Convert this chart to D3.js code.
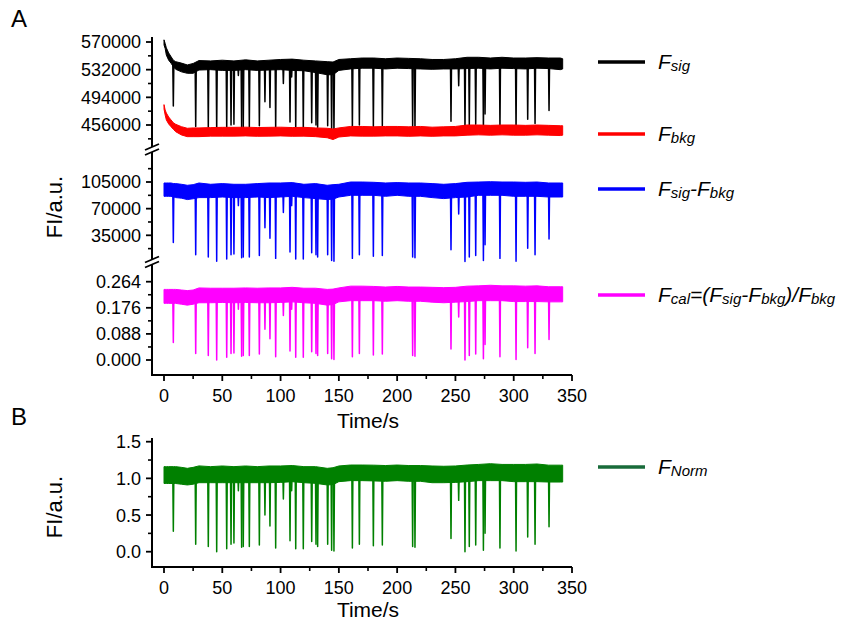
<!DOCTYPE html>
<html><head><meta charset="utf-8">
<script src="https://cdn.jsdelivr.net/npm/d3@7"></script>
<style>
html,body{margin:0;padding:0;background:#fff;}
svg text{font-family:Arial,"Liberation Sans",Helvetica,sans-serif;fill:#000;}
</style></head>
<body>
<svg id="chart" width="851" height="628"></svg>
<script>
// ---------------- DATA ----------------
const timeGrid = [0,1,2,4,6,8,10,15,20,25,30,40,50,60,70,80,90,100,110,120,130,140,145,150,160,170,180,190,200,210,220,230,240,250,260,270,280,290,300,310,320,330,340,342];

// Fsig band (upper / lower envelope)
const sigHi = [573000,568000,562000,555000,550000,545000,543000,541000,538500,540500,544500,544000,545000,544000,545500,544000,545000,546000,546500,545000,544000,543000,542500,546000,547000,548000,548000,547000,548000,547500,547000,546000,546000,547000,549000,549000,548000,549000,548000,548000,548500,548000,548000,547000];
const sigLo = [566000,561000,552000,545000,541000,536000,532500,529000,527000,527000,531500,532000,531000,531000,532000,531000,531500,532000,531000,530500,528000,525000,525000,531000,533000,534000,534000,533000,534000,533500,533000,532500,533000,533000,533500,534000,533000,534000,533500,533000,534000,533500,532000,533000];
// Fbkg band
const bkgHi = [484000,476600,472500,467000,463000,459200,457000,453700,451500,452000,452000,452400,452800,452800,453000,452500,452800,453000,452500,452800,452000,451500,450500,452000,454000,454000,453500,454000,454000,453500,454000,453000,453500,454000,456000,456000,455500,456000,456000,455500,456000,455500,455000,455000];
const bkgLo = [478000,469700,463000,457400,453700,450100,446800,442300,440000,440000,440000,440700,440700,440700,441000,440500,440700,441000,440500,440700,440000,438500,436000,439500,441000,440700,440700,441000,441000,440500,441000,440500,441000,441000,442000,442500,442000,442500,442000,442000,442500,442000,441500,442000];
// Fsig-Fbkg band
const diffHi = [103700,103700,103700,103700,103700,103000,102900,102000,100700,101500,103700,102000,102900,102000,102000,102900,103700,103700,104200,102000,102900,100700,101500,102000,105000,105000,104600,103700,104200,103700,103700,102900,102000,102900,104600,105000,105400,105000,105000,104600,105000,103700,103700,103700];
const diffLo = [86200,86200,86200,86200,86200,85500,84500,83800,81900,83000,84500,84500,85300,84500,84500,85300,84500,85300,86200,84500,83200,81900,82500,85300,87500,87500,87500,86200,87500,86200,86200,84500,83200,84500,85300,87500,87500,87500,86200,86200,86200,85300,85300,85300];
// Fcal band
const calHi = [0.238,0.238,0.238,0.238,0.238,0.238,0.238,0.236,0.234,0.236,0.243,0.242,0.242,0.242,0.243,0.242,0.243,0.243,0.245,0.242,0.242,0.238,0.239,0.243,0.249,0.249,0.248,0.246,0.248,0.246,0.246,0.245,0.244,0.245,0.249,0.250,0.252,0.250,0.250,0.249,0.250,0.247,0.247,0.247];
const calLo = [0.191,0.191,0.191,0.191,0.191,0.191,0.191,0.188,0.185,0.188,0.193,0.193,0.194,0.193,0.194,0.193,0.193,0.194,0.196,0.193,0.191,0.185,0.187,0.196,0.200,0.200,0.200,0.198,0.200,0.198,0.198,0.195,0.193,0.195,0.197,0.200,0.200,0.200,0.197,0.197,0.197,0.196,0.196,0.196];
// FNorm band
const normHi = [1.16,1.16,1.16,1.16,1.16,1.16,1.16,1.15,1.137,1.15,1.17,1.16,1.169,1.16,1.169,1.16,1.169,1.169,1.175,1.16,1.16,1.137,1.145,1.169,1.182,1.182,1.18,1.175,1.182,1.175,1.175,1.169,1.165,1.169,1.182,1.19,1.20,1.19,1.19,1.19,1.196,1.18,1.18,1.18];
const normLo = [0.93,0.93,0.93,0.93,0.93,0.93,0.93,0.92,0.91,0.92,0.941,0.941,0.941,0.941,0.941,0.941,0.941,0.945,0.955,0.941,0.932,0.91,0.915,0.955,0.969,0.969,0.965,0.96,0.969,0.96,0.96,0.941,0.941,0.945,0.955,0.969,0.969,0.969,0.955,0.955,0.955,0.95,0.95,0.95];

// Dip events (time, s) and the minimum reached in each series
const dipTimes = [8.0,27.2,38.0,45.2,53.8,57.5,60.0,63.8,66.6,68.0,73.2,81.8,86.6,90.9,95.8,102.4,108.1,109.5,113.0,119.5,126.7,130.4,131.8,140.4,143.8,145.8,161.6,167.6,179.6,187.3,213.3,215.3,246.2,252.8,258.2,261.9,267.4,274.0,275.4,288.2,302.0,312.0,318.3,330.3];
const dipSig  = [482000,454000,453000,447000,450000,456000,457000,524000,452000,453000,453000,455000,488000,480000,451000,513000,460000,522000,450000,450000,459000,456000,453000,455000,447000,446000,451000,456000,454000,455000,453000,452000,461000,510000,449000,455000,457000,450000,471000,453000,449000,464000,458000,476000];
const dipDiff = [25400,9400,6600,1000,3800,9400,10300,74000,5600,6600,6600,8500,45000,31000,4700,65000,13200,74000,3800,3800,12200,9400,6600,9400,1900,900,4700,9400,7500,8500,6600,5600,16000,63000,500,6600,8500,1900,22600,4700,900,17900,9400,30000];
const dipCal  = [0.059,0.022,0.015,0.000,0.009,0.022,0.024,0.171,0.013,0.015,0.015,0.020,0.104,0.072,0.011,0.150,0.030,0.171,0.009,0.009,0.028,0.022,0.015,0.022,0.004,0.002,0.011,0.022,0.017,0.020,0.015,0.013,0.037,0.145,0.000,0.015,0.020,0.004,0.052,0.011,0.002,0.041,0.022,0.069];
const dipNorm = [0.28,0.10,0.07,0.00,0.04,0.10,0.12,0.83,0.06,0.07,0.07,0.09,0.50,0.35,0.05,0.72,0.15,0.83,0.04,0.04,0.14,0.10,0.07,0.10,0.02,0.01,0.05,0.10,0.08,0.09,0.07,0.06,0.18,0.70,0.00,0.07,0.09,0.02,0.25,0.05,0.01,0.20,0.10,0.34];

// Axis ticks
const xTicks = [0,50,100,150,200,250,300,350];
const xMinor = [25,75,125,175,225,275,325];
const sigTicks = [456000,494000,532000,570000];
const sigMinor = [437000,475000,513000,551000];
const diffTicks = [35000,70000,105000];
const diffMinor = [17500,52500,87500,122500];
const calTicks = [0,0.088,0.176,0.264];
const calMinor = [0.044,0.132,0.22];
const normTicks = [0,0.5,1.0,1.5];
const normMinor = [0.25,0.75,1.25];

// Legend
const legendA = [
  {color:"#000000", y:62, parts:[["F",0],["sig",1]]},
  {color:"#ff0000", y:134, parts:[["F",0],["bkg",1]]},
  {color:"#0000ff", y:189, parts:[["F",0],["sig",1],["-",0],["F",0],["bkg",1]]},
  {color:"#ff00ff", y:295, parts:[["F",0],["cal",1],["=(",0],["F",0],["sig",1],["-",0],["F",0],["bkg",1],[")/",0],["F",0],["bkg",1]]}
];
const legendB = [{color:"#186b3a", y:467, parts:[["F",0],["Norm",1]]}];

// ---------------- DRAWING ----------------
const svg = d3.select("#chart");
const AX = 152;              // y-axis position
const x = d3.scaleLinear().domain([0,350]).range([164,572]);
const ySig  = d3.scaleLinear().domain([456000,570000]).range([125,42]);
const yDiff = d3.scaleLinear().domain([35000,105000]).range([235.3,182]);
const yCal  = d3.scaleLinear().domain([0,0.264]).range([360,281.7]);
const yNorm = d3.scaleLinear().domain([0,1.5]).range([551.7,441.7]);

const gData = svg.append("g");

function band(y, hi, lo, color) {
  const pts = timeGrid.map((t,i)=>({t, hi:hi[i], lo:lo[i]}));
  const area = d3.area().x(d=>x(d.t)).y0(d=>y(d.lo)).y1(d=>y(d.hi));
  gData.append("path").datum(pts).attr("d", area)
    .attr("fill", color).attr("stroke", color).attr("stroke-width", 1).attr("stroke-linejoin","round");
}
function dips(y, hi, lo, mins, color) {
  const line = d3.line().x(d=>x(d.t)).y(d=>y(d.v));
  dipTimes.forEach((t,i)=>{
    let k = 0; let best = 1e9;
    timeGrid.forEach((g,j)=>{ const dd=Math.abs(g-t); if(dd<best){best=dd;k=j;} });
    const top = (hi[k]+lo[k])/2;
    const pts = [{t:t-0.45, v:top},{t:t, v:mins[i]},{t:t+0.45, v:top}];
    gData.append("path").datum(pts).attr("d", line)
      .attr("fill", color).attr("stroke", color).attr("stroke-width", 1.5).attr("stroke-linejoin","round");
  });
}

band(ySig, sigHi, sigLo, "#000000");
dips(ySig, sigHi, sigLo, dipSig, "#000000");
band(ySig, bkgHi, bkgLo, "#ff0000");
band(yDiff, diffHi, diffLo, "#0000ff");
dips(yDiff, diffHi, diffLo, dipDiff, "#0000ff");
band(yCal, calHi, calLo, "#ff00ff");
dips(yCal, calHi, calLo, dipCal, "#ff00ff");
band(yNorm, normHi, normLo, "#008000");
dips(yNorm, normHi, normLo, dipNorm, "#008000");

// ---------------- AXES ----------------
const gAx = svg.append("g").attr("stroke","#000").attr("stroke-width",2).attr("fill","none");
function vseg(y1,y2){ gAx.append("line").attr("x1",AX).attr("x2",AX).attr("y1",y1).attr("y2",y2); }
function breakMark(yc){
  [-2.5,2.5].forEach(o=>{
    svg.append("line").attr("x1",AX-7).attr("y1",yc+o+3).attr("x2",AX+7).attr("y2",yc+o-3)
      .attr("stroke","#000").attr("stroke-width",1.8);
  });
}
// Panel A y-axis in three segments with breaks
vseg(37,147); vseg(152,259.5); vseg(264.5,376);
breakMark(149.5); breakMark(262);
// Panel B y-axis
vseg(438,568);
// x-axes
gAx.append("line").attr("x1",AX-1).attr("x2",572).attr("y1",375).attr("y2",375);
gAx.append("line").attr("x1",AX-1).attr("x2",572).attr("y1",567).attr("y2",567);

function yTicks(scale, major, minor, fmt){
  major.forEach(v=>{
    const yy = scale(v);
    gAx.append("line").attr("x1",AX-6).attr("x2",AX).attr("y1",yy).attr("y2",yy).attr("stroke-width",1.8);
    svg.append("text").attr("x",AX-11).attr("y",yy).attr("dy","0.36em")
      .attr("text-anchor","end").attr("font-size",18).text(fmt(v));
  });
  minor.forEach(v=>{
    const yy = scale(v);
    gAx.append("line").attr("x1",AX-4).attr("x2",AX).attr("y1",yy).attr("y2",yy).attr("stroke-width",1.6);
  });
}
yTicks(ySig, sigTicks, sigMinor, d3.format("d"));
yTicks(yDiff, diffTicks, diffMinor, d3.format("d"));
yTicks(yCal, calTicks, calMinor, d3.format(".3f"));
yTicks(yNorm, normTicks, normMinor, d3.format(".1f"));

function xAxis(y0){
  xTicks.forEach(v=>{
    gAx.append("line").attr("x1",x(v)).attr("x2",x(v)).attr("y1",y0).attr("y2",y0+6).attr("stroke-width",1.8);
    svg.append("text").attr("x",x(v)).attr("y",y0+27).attr("text-anchor","middle")
      .attr("font-size",18).text(v);
  });
  xMinor.forEach(v=>{
    gAx.append("line").attr("x1",x(v)).attr("x2",x(v)).attr("y1",y0).attr("y2",y0+4).attr("stroke-width",1.6);
  });
}
xAxis(375); xAxis(567);

// Axis titles
svg.append("text").attr("x",x(175)).attr("y",428).attr("text-anchor","middle").attr("font-size",21).text("Time/s");
svg.append("text").attr("x",x(175)).attr("y",617).attr("text-anchor","middle").attr("font-size",21).text("Time/s");
svg.append("text").attr("transform","translate(62,207) rotate(-90)").attr("text-anchor","middle").attr("font-size",22).text("FI/a.u.");
svg.append("text").attr("transform","translate(62,507) rotate(-90)").attr("text-anchor","middle").attr("font-size",22).text("FI/a.u.");

// Panel letters
svg.append("text").attr("x",11).attr("y",27).attr("font-size",24).text("A");
svg.append("text").attr("x",11).attr("y",425).attr("font-size",24).text("B");

// Legends
function legend(items){
  items.forEach(it=>{
    svg.append("line").attr("x1",598).attr("x2",645).attr("y1",it.y).attr("y2",it.y)
      .attr("stroke",it.color).attr("stroke-width",3.5);
    const t = svg.append("text").attr("x",658).attr("y",it.y+7).attr("font-style","italic");
    it.parts.forEach(([s,sub],i)=>{
      const prevSub = i>0 ? it.parts[i-1][1] : 0;
      const ts = t.append("tspan").attr("font-size", sub?15:21).text(s);
      if (sub && !prevSub) ts.attr("dy", 2);
      if (!sub && prevSub) ts.attr("dy", -2);
    });
  });
}
legend(legendA);
legend(legendB);
</script>
</body></html>
